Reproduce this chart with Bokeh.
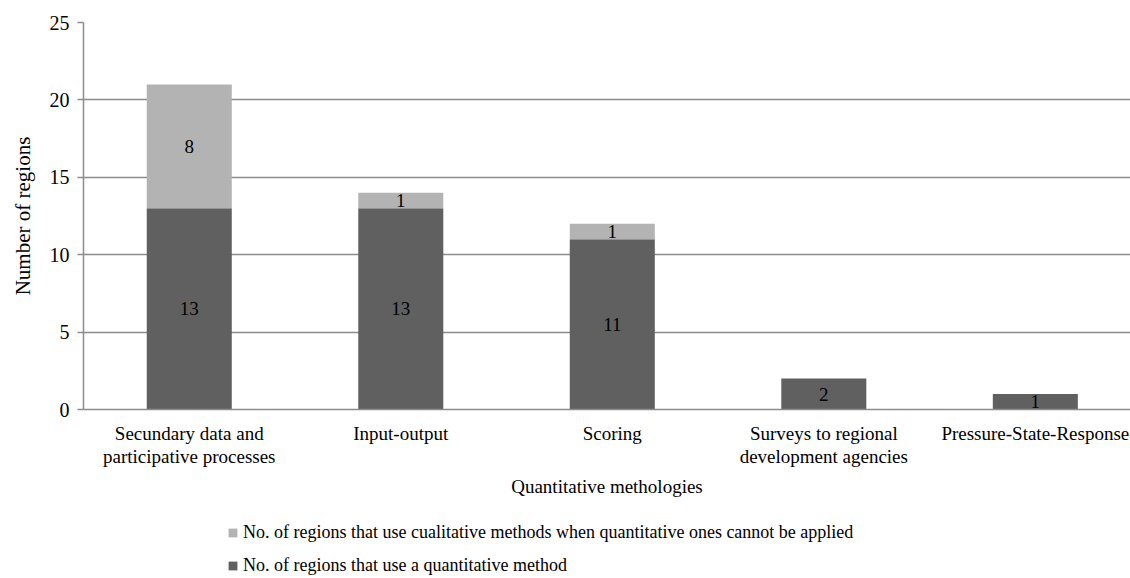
from bokeh.plotting import figure
from bokeh.models import ColumnDataSource, Range1d, Legend, LegendItem, FixedTicker
from bokeh.layouts import column
from bokeh.core.properties import value
from bokeh.embed import file_html
from bokeh.resources import INLINE

categories = ["Secundary data and\nparticipative processes", "Input-output", "Scoring",
              "Surveys to regional\ndevelopment agencies", "Pressure-State-Response"]
quantitative = [13, 13, 11, 2, 1]
cualitative = [8, 1, 1, 0, 0]
series_names = ["No. of regions that use a quantitative method",
                "No. of regions that use cualitative methods when quantitative ones cannot be applied"]
colors = ["#606060", "#b3b3b3"]
y_ticks = [0, 5, 10, 15, 20, 25]
FONT = "Liberation Serif"

pos = [i + 0.5 for i in range(len(categories))]
src = ColumnDataSource(dict(x=pos, quant=quantitative, cual=cualitative))

p = figure(x_range=Range1d(0, 4.95), y_range=Range1d(0, 25),
           width=1130, height=505, output_backend="svg", toolbar_location=None,
           min_border_left=83, min_border_right=0, min_border_top=22, min_border_bottom=96)
p.outline_line_color = None

r = p.vbar_stack(["quant", "cual"], x="x", width=0.402, source=src, color=colors, line_color=None)

# segment labels
lab_x, lab_y, lab_t = [], [], []
for x, q, u in zip(pos, quantitative, cualitative):
    if q > 0:
        lab_x.append(x); lab_y.append(q / 2); lab_t.append(str(q))
    if u > 0:
        lab_x.append(x); lab_y.append(q + u / 2); lab_t.append(str(u))
p.text(x=lab_x, y=lab_y, text=lab_t, text_align="center", text_baseline="middle",
       text_font=value(FONT), text_font_size="19px", text_color="black")

# axes
p.xaxis.ticker = FixedTicker(ticks=pos)
p.xaxis.major_label_overrides = {x: c for x, c in zip(pos, categories)}
p.yaxis.ticker = FixedTicker(ticks=y_ticks)
p.yaxis.axis_label = "Number of regions"
p.xaxis.axis_label = "Quantitative methologies"
for ax in (p.xaxis[0], p.yaxis[0]):
    ax.axis_label_text_font = FONT
    ax.axis_label_text_font_style = "normal"
    ax.axis_label_text_color = "black"
    ax.major_label_text_font = FONT
    ax.major_label_text_color = "black"
    ax.axis_line_color = "#8c8c8c"
    ax.axis_line_width = 1.5
    ax.minor_tick_line_color = None
p.yaxis.axis_label_text_font_size = "21px"
p.xaxis.axis_label_text_font_size = "19px"
p.yaxis.major_label_text_font_size = "20px"
p.xaxis.major_label_text_font_size = "19px"
p.xaxis.major_label_text_line_height = 1.1
p.yaxis.major_tick_out = 6
p.yaxis.major_tick_in = 0
p.yaxis.major_tick_line_color = "#8c8c8c"
p.yaxis.major_tick_line_width = 1.5
p.yaxis.major_label_standoff = 8
p.xaxis.major_tick_line_color = None
p.xaxis.major_tick_out = 0
p.xaxis.major_tick_in = 0
p.xaxis.major_label_standoff = 13
p.xaxis.axis_label_standoff = 6
p.yaxis.axis_label_standoff = 12
p.xgrid.grid_line_color = None
p.ygrid.grid_line_color = "#8c8c8c"
p.ygrid.grid_line_width = 1.5

# legend strip below the chart (swatch renderers have zero size)
pl = figure(x_range=Range1d(0, 1), y_range=Range1d(0, 1), width=1130, height=73,
            output_backend="svg", toolbar_location=None,
            min_border_left=0, min_border_right=0, min_border_top=0, min_border_bottom=0)
pl.axis.visible = False
pl.grid.grid_line_color = None
pl.outline_line_color = None
swatch = ColumnDataSource(dict(x=[0], top=[0]))
lr = [pl.vbar(x="x", top="top", bottom=0, width=0, source=swatch, color=c, line_color=None)
      for c in colors]
legend = Legend(items=[LegendItem(label=series_names[1], renderers=[lr[1]]),
                       LegendItem(label=series_names[0], renderers=[lr[0]])],
                location=(144, 2), orientation="vertical",
                glyph_width=11, glyph_height=11, label_height=22,
                label_text_font=FONT, label_text_font_size="18px", label_text_color="black",
                label_standoff=5, spacing=11, padding=0, margin=0,
                border_line_color=None, background_fill_alpha=0)
pl.add_layout(legend)

layout = column(p, pl, spacing=0)
open("out.html", "w").write(file_html(layout, INLINE))
